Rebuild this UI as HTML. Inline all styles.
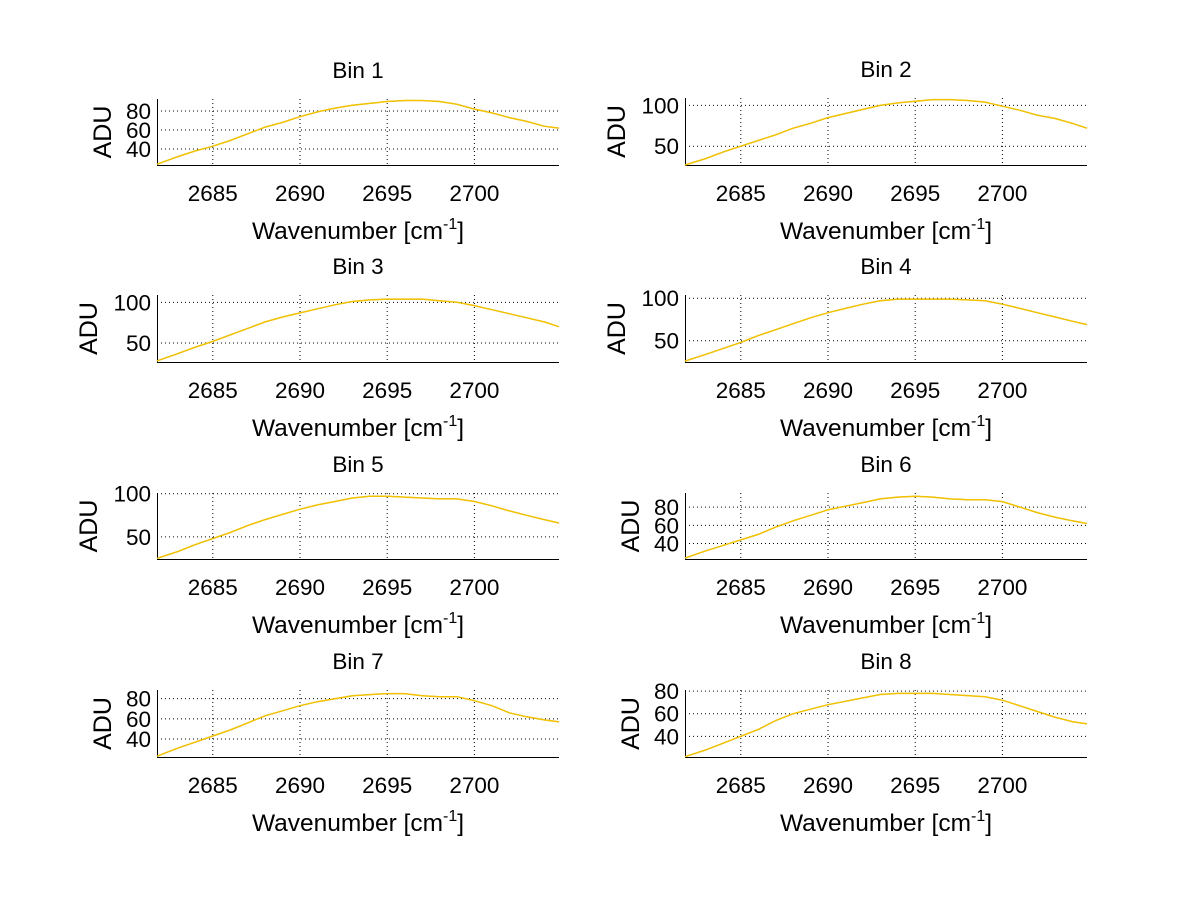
<!DOCTYPE html>
<html><head><meta charset="utf-8"><style>
html,body{margin:0;padding:0;background:#fff;}
svg text{font-family:"Liberation Sans",sans-serif;fill:#000;}
</style></head><body>
<svg id="fig" width="1200" height="901" viewBox="0 0 1200 901" xmlns="http://www.w3.org/2000/svg"></svg>
<script>
const wavenumbers=[2681.8,2683,2684,2685,2686,2687,2688,2689,2690,2691,2692,2693,2694,2695,2696,2697,2698,2699,2700,2701,2702,2703,2704,2704.85];
const xTicks=[2685,2690,2695,2700];
const bin1=[24,32,38,43,49,56,63,68,74,79,83,86,88,90,91,91,90,87,82,78,73,69,64,62];
const bin2=[27,35,43,50,57,64,72,78,85,90,95,100,103,105,107,107,106,104,99,94,88,84,78,72];
const bin3=[28,37,45,52,60,68,76,82,87,92,97,101,103,104,104,104,102,100,96,91,86,81,76,70];
const bin4=[26,34,41,48,56,63,70,77,83,88,93,97,99,99,99,99,98,97,93,88,83,78,73,69];
const bin5=[25,33,41,48,55,63,70,76,82,87,91,95,97,97,96,95,94,94,91,86,80,75,70,66];
const bin6=[24,32,38,44,50,58,65,71,77,81,85,89,91,92,91,89,88,88,86,80,74,69,65,62];
const bin7=[23,31,37,43,49,56,63,68,73,77,80,83,84,85,85,83,82,82,78,73,66,62,59,57];
const bin8=[22,28,34,40,46,54,60,64,68,71,74,77,78,78,78,77,76,75,72,67,62,57,53,51];
const yTicks1=[40,60,80],yTicks2=[50,100],yTicks3=[50,100],yTicks4=[50,100],yTicks5=[50,100],yTicks6=[40,60,80],yTicks7=[40,60,80],yTicks8=[40,60,80];
const series=[bin1,bin2,bin3,bin4,bin5,bin6,bin7,bin8];
const yticksAll=[yTicks1,yTicks2,yTicks3,yTicks4,yTicks5,yTicks6,yTicks7,yTicks8];
const yRanges=[[23.2,92.6],[27,109],[26.7,109],[25,103.8],[24.3,100.8],[23,95.5],[22.2,88.6],[21.7,81]];
const xMin=2681.8,xMax=2704.85;
const panels=[[157,99,165],[685,98,165],[157,295,362],[685,295,362],[157,493,559],[685,493,559],[157,690,757],[685,690,757]];
const W=402;
const NS='http://www.w3.org/2000/svg';
const svg=document.getElementById('fig');
function mk(tag,attrs,parent,txt){const e=document.createElementNS(NS,tag);for(const k in attrs)e.setAttribute(k,attrs[k]);if(txt!==undefined)e.textContent=txt;(parent||svg).appendChild(e);return e;}
series.forEach((data,i)=>{
  const [L,T,B]=panels[i];const [y0,y1]=yRanges[i];
  const xs=v=>L+(v-xMin)/(xMax-xMin)*W;
  const ys=v=>B-(v-y0)/(y1-y0)*(B-T);
  const g=mk('g',{});
  
  
  xTicks.forEach(t=>{const x=xs(t);
    const gl=mk('line',{x1:x,x2:x,y1:T,y2:B,stroke:'#000','stroke-width':1,'stroke-dasharray':'1,3'},g);
    
    
    const tl=mk('text',{x:x,y:B+36,'font-size':22.5,'text-anchor':'middle'},g,String(t));
    
    
  });
  yticksAll[i].forEach(t=>{const y=ys(t);
    const gl=mk('line',{x1:L,x2:L+W,y1:y,y2:y,stroke:'#000','stroke-width':1,'stroke-dasharray':'1,3'},g);
    
    
    const tl=mk('text',{x:L-6,y:y+8,'font-size':22.5,'text-anchor':'end'},g,String(t));
    
    
  });
  const ax=mk('path',{d:`M${L+0.5},${T}V${B+0.5}H${L+W}`,fill:'none',stroke:'#000','stroke-width':1},g);
  
  
  const pts=data.map((v,k)=>xs(wavenumbers[k]).toFixed(1)+','+ys(v).toFixed(1)).join(' ');
  const d1=mk('polyline',{points:pts,fill:'none',stroke:'#333','stroke-width':1},g);
  
  
  const d2=mk('polyline',{points:pts,fill:'none',stroke:'#f2c200','stroke-width':1.5},g);
  
  
  const ti=mk('text',{x:L+W/2,y:T-21,'font-size':22.5,'text-anchor':'middle'},g,'Bin '+(i+1));
  
  
  const xl=mk('text',{x:L+W/2,y:B+74,'font-size':24.5,'text-anchor':'middle'},g);
  
  
  xl.innerHTML='Wavenumber [cm<tspan dy="-10" font-size="16">-1</tspan><tspan dy="10">]</tspan>';
  const maxLen=Math.max(...yticksAll[i].map(t=>String(t).length));
  const cy=(T+B)/2, cx=L-(maxLen>2?60:46);
  const yl=mk('text',{x:cx,y:cy,'font-size':25,'text-anchor':'middle',transform:`rotate(-90 ${cx} ${cy})`},g,'ADU');
  
  
});
</script>
</body></html>
